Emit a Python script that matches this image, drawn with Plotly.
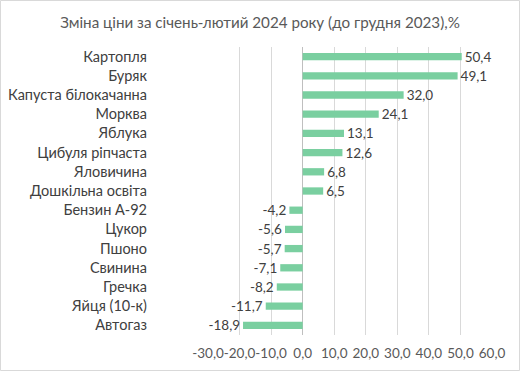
import plotly.graph_objects as go

categories = ["Картопля", "Буряк", "Капуста білокачанна", "Морква", "Яблука", "Цибуля ріпчаста",
              "Яловичина", "Дошкільна освіта", "Бензин А-92", "Цукор", "Пшоно", "Свинина",
              "Гречка", "Яйця (10-к)", "Автогаз"]
values = [50.4, 49.1, 32.0, 24.1, 13.1, 12.6, 6.8, 6.5, -4.2, -5.6, -5.7, -7.1, -8.2, -11.7, -18.9]
tick_vals = [-30, -20, -10, 0, 10, 20, 30, 40, 50, 60]
tick_text = [f"{v:.1f}".replace(".", ",") for v in tick_vals]
title = "Зміна ціни за січень-лютий 2024 року (до грудня 2023),%"

fig = go.Figure(go.Bar(
    x=values, y=categories, orientation="h",
    marker=dict(color="#7ACFA0", line=dict(width=0)),
    text=[f"{v:.1f}".replace(".", ",") for v in values],
    textposition="outside", cliponaxis=False, constraintext="none",
    textfont=dict(color="#404040", size=13.5),
    width=0.38,
))

fig.update_layout(
    width=520, height=371,
    margin=dict(l=208, r=28, t=47, b=36),
    paper_bgcolor="white", plot_bgcolor="white",
    font=dict(family="Lato, 'Open Sans', sans-serif", size=13, color="#404040"),
    title=dict(text=title, x=0.5, xanchor="center", y=0.94, yanchor="middle",
               font=dict(size=15.2, color="#595959")),
    showlegend=False,
    xaxis=dict(range=[-30, 60], tickvals=tick_vals, ticktext=tick_text, tickangle=0,
               showgrid=True, gridcolor="#D9D9D9", gridwidth=1,
               zeroline=True, zerolinecolor="#BFBFBF", zerolinewidth=1,
               showline=False, ticks="", ticklabelstandoff=8,
               tickfont=dict(size=13.5, color="#595959"),
               automargin=False, fixedrange=True),
    yaxis=dict(autorange="reversed", showgrid=False, zeroline=False, showline=False,
               ticks="", ticklabelstandoff=60, tickfont=dict(size=14.5, color="#404040"),
               automargin=False, fixedrange=True),
)
fig.add_shape(type="rect", xref="paper", yref="paper",
              x0=-207.5/284, x1=1 + 27.5/284, y0=-35.5/288, y1=1 + 46.5/288,
              line=dict(color="#D9D9D9", width=1), fillcolor="rgba(0,0,0,0)")

fig.write_html("out.html", config={"displayModeBar": False},
               post_script="document.body.style.margin='0';document.body.style.padding='0';")
